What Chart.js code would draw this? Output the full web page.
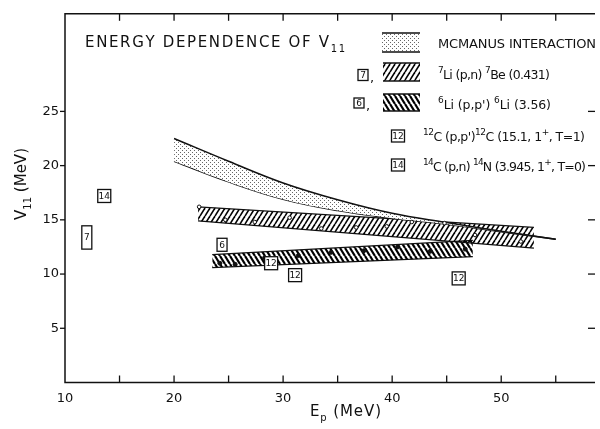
<!DOCTYPE html>
<html>
<head>
<meta charset="utf-8">
<title>Energy dependence of V11</title>
<script src="https://cdn.jsdelivr.net/npm/chart.js@4.4.1/dist/chart.umd.min.js"></script>
<style>
    html, body { margin: 0; padding: 0; background: #fff; }
    canvas { display: block; }
</style>
</head>
<body>
<canvas id="v11Chart" width="600" height="429"></canvas>
<script>
// McManus interaction band (upper and lower curve)
const mcX = [20, 25, 30, 35, 40, 45, 50, 55];
const mcUpper = [22.5, 20.4, 18.4, 16.85, 15.6, 14.75, 13.95, 13.2];
const mcLower = [20.4, 18.5, 16.9, 15.85, 15.15, 14.6, 13.9, 13.2];

// 7Li(p,n)7Be band and its points
const li7X = [22.2, 53.0];
const li7Top = [16.2, 14.3];
const li7Bottom = [14.9, 12.4];
const li7PtX = [22.3, 24.7, 27.4, 30.6, 33.5, 36.7, 39.5, 41.8, 44.8, 47.6, 51.8];
const li7PtY = [16.2, 15.0, 14.8, 15.2, 14.2, 14.3, 14.4, 14.8, 14.7, 13.6, 13.0];

// 6Li(p,p')6Li band and its points
const li6X = [23.5, 47.4];
const li6Top = [11.8, 13.1];
const li6Bottom = [10.6, 11.6];
const li6PtX = [24.2, 25.6, 28.3, 31.4, 34.4, 37.4, 40.5, 43.5, 46.7];
const li6PtY = [11.0, 10.9, 11.5, 11.7, 12.0, 12.15, 12.5, 12.1, 12.3];

// boxed reaction labels (single values, the 7 box is a range)
const boxText = ['14', '7', '6', '12', '12', '12'];
const boxX = [13.6, 12.0, 24.4, 28.9, 31.1, 46.1];
const boxYMin = [17.2, 12.3, 12.7, 11.0, 9.9, 9.6];
const boxYMax = [17.2, 14.45, 12.7, 11.0, 9.9, 9.6];

// axis labels shown
const xTickLabels = [10, 20, 30, 40, 50];
const yTickLabels = [5, 10, 15, 20, 25];

const FONT = '"DejaVu Sans", sans-serif';
const INK = '#111';

function xy(xs, ys) {
    return xs.map((x, i) => ({ x: x, y: ys[i] }));
}

/**
 * Hatch pattern, dir 1 = "/", dir -1 = "\"
 */
function makeHatch(ctx, dir, w, h, lw) {
    const c = document.createElement('canvas');
    c.width = w;
    c.height = h;
    const g = c.getContext('2d');
    g.strokeStyle = '#000';
    g.lineWidth = lw;
    for (let k = -1; k <= 1; k++) {
        g.beginPath();
        if (dir > 0) {
            g.moveTo(k * w, h);
            g.lineTo(k * w + w, 0);
        } else {
            g.moveTo(k * w, 0);
            g.lineTo(k * w + w, h);
        }
        g.stroke();
    }
    return ctx.createPattern(c, 'repeat');
}

function makeStipple(ctx) {
    const c = document.createElement('canvas');
    c.width = 4;
    c.height = 4;
    const g = c.getContext('2d');
    g.fillStyle = '#fff';
    g.fillRect(0, 0, 4, 4);
    g.fillStyle = '#666';
    g.fillRect(0, 0, 1, 1);
    g.fillRect(2, 2, 1, 1);
    return ctx.createPattern(c, 'repeat');
}

/**
 * Draw text runs (normal / sup / sub) from x, centred on cy,
 * spread with letter spacing so the whole thing is `width` wide
 */
function drawRuns(ctx, runs, x, cy, size, width) {
    const fontFor = k => (k === 'n' ? size : Math.round(size * 0.68)) + 'px ' + FONT;
    let natural = 0;
    let chars = 0;
    runs.forEach(([t, k]) => {
        ctx.font = fontFor(k);
        for (const ch of t) {
            natural += ctx.measureText(ch).width;
            chars++;
        }
    });
    const sp = width ? (width - natural) / Math.max(chars - 1, 1) : 0;
    const base = cy + size * 0.36;
    ctx.fillStyle = INK;
    ctx.textAlign = 'left';
    ctx.textBaseline = 'alphabetic';
    let cx = x;
    runs.forEach(([t, k]) => {
        ctx.font = fontFor(k);
        const dy = k === 'sup' ? -size * 0.42 : (k === 'sub' ? size * 0.3 : 0);
        for (const ch of t) {
            ctx.fillText(ch, cx, base + dy);
            cx += ctx.measureText(ch).width + sp;
        }
    });
}

function line(ctx, x1, y1, x2, y2) {
    ctx.beginPath();
    ctx.moveTo(x1, y1);
    ctx.lineTo(x2, y2);
    ctx.stroke();
}

function labelBox(ctx, txt, cx, cy, h) {
    const w = txt.length > 1 ? 13 : 10;
    ctx.fillStyle = '#fff';
    ctx.fillRect(cx - w / 2, cy - h / 2, w, h);
    ctx.strokeStyle = INK;
    ctx.lineWidth = 1.3;
    ctx.strokeRect(cx - w / 2, cy - h / 2, w, h);
    ctx.fillStyle = INK;
    ctx.font = '9px ' + FONT;
    ctx.textAlign = 'center';
    ctx.textBaseline = 'middle';
    ctx.fillText(txt, cx, cy + 0.5);
}

function swatch(ctx, pattern, x1, y1, x2, y2) {
    ctx.fillStyle = pattern;
    ctx.fillRect(x1, y1, x2 - x1, y2 - y1);
    ctx.strokeStyle = INK;
    ctx.lineWidth = 1.4;
    line(ctx, x1, y1, x2, y1);
    line(ctx, x1, y2, x2, y2);
}

const canvas = document.getElementById('v11Chart');
const ctx = canvas.getContext('2d');

const stipple = makeStipple(ctx);
const hatchFwd = makeHatch(ctx, 1, 5, 8, 1.6);
const hatchBack = makeHatch(ctx, -1, 5, 8, 2.2);

const decorPlugin = {
    id: 'decor',
    afterDraw(chart) {
        const c = chart.ctx;
        const a = chart.chartArea;
        const xs = chart.scales.x;
        const ys = chart.scales.y;
        c.save();

        // frame (right edge falls off the picture)
        c.strokeStyle = INK;
        c.lineWidth = 1.5;
        c.beginPath();
        c.moveTo(a.right, a.top);
        c.lineTo(a.left, a.top);
        c.lineTo(a.left, a.bottom);
        c.lineTo(a.right, a.bottom);
        c.stroke();

        // inward ticks top/bottom, outward left, inward right
        c.lineWidth = 1.3;
        xs.ticks.forEach(t => {
            if (t.value <= xs.min) return;
            const px = xs.getPixelForValue(t.value);
            line(c, px, a.top, px, a.top + 7);
            line(c, px, a.bottom, px, a.bottom - 7);
        });
        ys.ticks.forEach(t => {
            if (!yTickLabels.includes(t.value)) return;
            const py = ys.getPixelForValue(t.value);
            line(c, a.left - 5, py, a.left, py);
            line(c, a.right - 7, py, a.right, py);
        });

        // boxed labels in the plot
        boxText.forEach((txt, i) => {
            const cx = xs.getPixelForValue(boxX[i]);
            const y1 = ys.getPixelForValue(boxYMax[i]);
            const y2 = ys.getPixelForValue(boxYMin[i]);
            labelBox(c, txt, cx, (y1 + y2) / 2, Math.max(13, y2 - y1));
        });

        // title
        drawRuns(c, [['ENERGY DEPENDENCE OF V', 'n'], ['11', 'sub']], 85, 42, 15, 260);

        // legend
        swatch(c, stipple, 382, 33, 420, 52);
        drawRuns(c, [['MCMANUS INTERACTION', 'n']], 438, 43, 13, 158);

        labelBox(c, '7', 363, 75, 11);
        c.font = '13px ' + FONT;
        c.textAlign = 'left';
        c.fillText(',', 370, 79);
        swatch(c, hatchFwd, 383, 63, 420, 81);
        drawRuns(c, [['7', 'sup'], ['Li (p,n) ', 'n'], ['7', 'sup'], ['Be (0.431)', 'n']], 438, 74, 12.5, 112);

        labelBox(c, '6', 359, 103, 10);
        c.font = '13px ' + FONT;
        c.textAlign = 'left';
        c.fillText(',', 366, 107);
        swatch(c, hatchBack, 383, 94, 420, 111);
        drawRuns(c, [['6', 'sup'], ["Li (p,p') ", 'n'], ['6', 'sup'], ['Li (3.56)', 'n']], 438, 104, 12.5, 113);

        labelBox(c, '12', 398, 136, 12);
        drawRuns(c, [['12', 'sup'], ["C (p,p')", 'n'], ['12', 'sup'], ['C (15.1, 1', 'n'], ['+', 'sup'], [', T=1)', 'n']], 423, 136, 12.5, 162);

        labelBox(c, '14', 398, 165, 12);
        drawRuns(c, [['14', 'sup'], ['C (p,n) ', 'n'], ['14', 'sup'], ['N (3.945, 1', 'n'], ['+', 'sup'], [', T=0)', 'n']], 423, 166, 12.5, 163);

        // axis titles
        drawRuns(c, [['E', 'n'], ['p', 'sub'], [' (MeV)', 'n']], 310, 411, 15, 71);
        c.translate(21, 184);
        c.rotate(-Math.PI / 2);
        drawRuns(c, [['V', 'n'], ['11', 'sub'], [' (MeV)', 'n']], -36, 0, 15, 72);

        c.restore();
    }
};

const bandLine = {
    borderColor: INK,
    borderWidth: 1.3,
    pointRadius: 0,
    tension: 0
};

new Chart(ctx, {
    type: 'line',
    data: {
        datasets: [
            {
                data: xy(mcX, mcUpper),
                borderColor: INK,
                borderWidth: 1.5,
                pointRadius: 0,
                tension: 0.4,
                fill: '+1',
                backgroundColor: stipple,
                order: 1
            },
            {
                data: xy(mcX, mcLower),
                borderColor: INK,
                borderWidth: 1.5,
                pointRadius: 0,
                tension: 0.4,
                fill: false,
                order: 1
            },
            Object.assign({ data: xy(li7X, li7Top), fill: '+1', backgroundColor: hatchFwd, order: 2 }, bandLine),
            Object.assign({ data: xy(li7X, li7Bottom), fill: false, order: 2 }, bandLine),
            Object.assign({ data: xy(li6X, li6Top), fill: '+1', backgroundColor: hatchBack, order: 2 }, bandLine),
            Object.assign({ data: xy(li6X, li6Bottom), fill: false, order: 2 }, bandLine),
            {
                data: xy(li7PtX, li7PtY),
                showLine: false,
                pointRadius: 1.8,
                pointBackgroundColor: '#fff',
                pointBorderColor: INK,
                pointBorderWidth: 1,
                order: 0
            },
            {
                data: xy(li6PtX, li6PtY),
                showLine: false,
                pointRadius: 2,
                pointBackgroundColor: INK,
                pointBorderColor: INK,
                order: 0
            }
        ]
    },
    options: {
        responsive: false,
        animation: false,
        events: [],
        layout: {
            padding: { top: 8, right: 0, left: 0, bottom: 0 }
        },
        plugins: {
            legend: { display: false },
            tooltip: { enabled: false }
        },
        scales: {
            x: {
                type: 'linear',
                min: 10,
                max: 58.6,
                grid: { display: false, drawTicks: false },
                border: { display: false },
                ticks: {
                    stepSize: 5,
                    includeBounds: false,
                    autoSkip: false,
                    maxRotation: 0,
                    padding: 8,
                    color: INK,
                    font: { family: 'DejaVu Sans', size: 13 },
                    callback: v => (xTickLabels.includes(v) ? String(v) : '')
                },
                afterFit(scale) {
                    scale.height = 46.5;
                }
            },
            y: {
                type: 'linear',
                min: 0,
                max: 34,
                grid: { display: false, drawTicks: false },
                border: { display: false },
                ticks: {
                    stepSize: 5,
                    includeBounds: false,
                    autoSkip: false,
                    padding: 6,
                    color: INK,
                    font: { family: 'DejaVu Sans', size: 13 },
                    callback: v => (yTickLabels.includes(v) ? String(v) : '')
                },
                afterFit(scale) {
                    scale.width = 65;
                }
            }
        }
    },
    plugins: [decorPlugin]
});
</script>
</body>
</html>
